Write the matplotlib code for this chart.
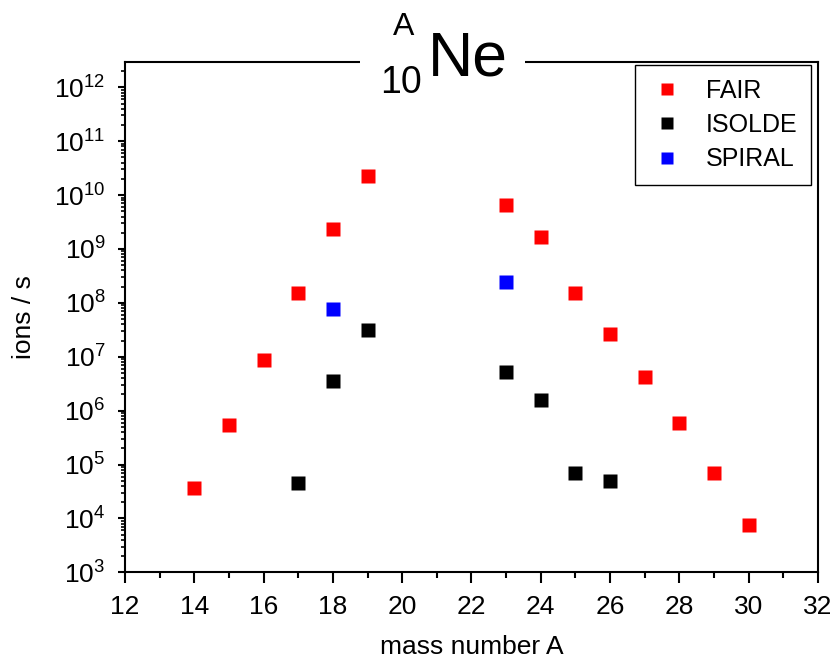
import matplotlib
matplotlib.use("Agg")
import matplotlib.pyplot as plt
from matplotlib.patches import Rectangle
from matplotlib.ticker import LogLocator, FixedLocator, MultipleLocator

plt.rcParams['font.family'] = ['Liberation Sans', 'DejaVu Sans']
plt.rcParams['mathtext.fontset'] = 'custom'
plt.rcParams['mathtext.rm'] = 'Liberation Sans'
plt.rcParams['mathtext.default'] = 'regular'

# data
fair_A = [14, 15, 16, 17, 18, 19, 23, 24, 25, 26, 27, 28, 29, 30]
fair_rate = [3.7e4, 5.4e5, 8.7e6, 1.5e8, 2.3e9, 2.3e10, 6.5e9, 1.7e9,
             1.5e8, 2.6e7, 4.2e6, 5.9e5, 6.9e4, 7.5e3]
isolde_A = [17, 18, 19, 23, 24, 25, 26]
isolde_rate = [4.5e4, 3.5e6, 3.1e7, 5.2e6, 1.6e6, 6.9e4, 4.9e4]
spiral_A = [18, 23]
spiral_rate = [7.7e7, 2.4e8]

xticks = [12, 14, 16, 18, 20, 22, 24, 26, 28, 30, 32]
ydecades = list(range(3, 13))

fig = plt.figure(figsize=(8.4, 6.58), dpi=100)
ax = fig.add_axes([0.1488, 0.1302, 0.825, 0.7756])

ax.plot(fair_A, fair_rate, 's', color='#ff0000', ms=10, mec='none', label='FAIR')
ax.plot(isolde_A, isolde_rate, 's', color='black', ms=10, mec='none', label='ISOLDE')
ax.plot(spiral_A, spiral_rate, 's', color='#0000ff', ms=10, mec='none', label='SPIRAL')

ax.set_yscale('log')
ax.set_xlim(12, 32)
ax.set_ylim(1e3, 10 ** 12.47)
ax.xaxis.set_major_locator(FixedLocator(xticks))
ax.xaxis.set_minor_locator(MultipleLocator(1))
ax.yaxis.set_major_locator(FixedLocator([10.0 ** d for d in ydecades]))
ax.set_yticklabels([r'$10^{%d}$' % d for d in ydecades])
ax.yaxis.set_minor_locator(LogLocator(base=10, subs=range(2, 10), numticks=20))
ax.yaxis.set_minor_formatter(plt.NullFormatter())

for s in ax.spines.values():
    s.set_linewidth(1.5)
ax.tick_params(axis='both', which='major', direction='out', width=1.5, labelsize=19)
ax.tick_params(axis='x', which='major', length=8, pad=8)
ax.tick_params(axis='x', which='minor', length=4, width=1.5)
ax.tick_params(axis='y', which='major', length=5, pad=9)
ax.tick_params(axis='y', which='minor', length=3, width=1.2)

ax.set_xlabel('mass number A', fontsize=19, labelpad=12)
ax.set_ylabel('ions / s', fontsize=19, labelpad=13)

leg = ax.legend(loc='upper right', bbox_to_anchor=(0.99, 0.994), borderaxespad=0,
                fancybox=False, edgecolor='black', framealpha=1, fontsize=18,
                handlelength=1.46, handletextpad=0.8, labelspacing=0.41,
                borderpad=0.55, numpoints=1, markerscale=0.9)
leg.get_frame().set_linewidth(1.0)

# title sitting on the top spine
fig.add_artist(Rectangle((360 / 840, 1 - 72 / 658), 165 / 840, 20 / 658,
                         transform=fig.transFigure, facecolor='white',
                         edgecolor='none', zorder=5))
fig.text(428 / 840, 1 - 75 / 658, 'Ne', fontsize=45, ha='left', va='baseline', zorder=6)
fig.text(404 / 840, 1 - 35 / 658, 'A', fontsize=23, ha='center', va='baseline', zorder=6)
fig.text(401 / 840, 1 - 93 / 658, '10', fontsize=27, ha='center', va='baseline', zorder=6)

fig.savefig('out.png', dpi=100)
